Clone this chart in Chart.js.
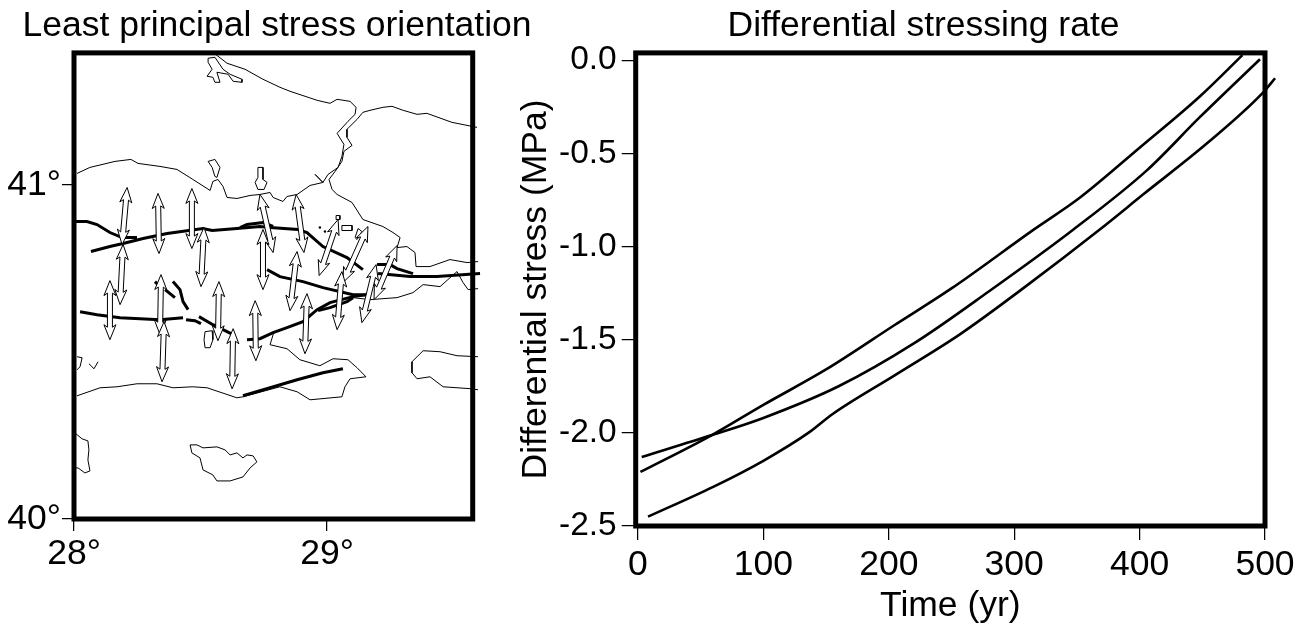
<!DOCTYPE html>
<html>
<head>
<meta charset="utf-8">
<title>Stress orientation and stressing rate</title>
<script src="https://cdn.jsdelivr.net/npm/chart.js@4"></script>
<style>
	html, body { margin: 0; background: #fff; overflow: hidden; width: 1305px; height: 625px; }
	canvas { position: absolute; top: 0; }
	#chart-map { left: 0; }
	#chart-rate { left: 485px; }
</style>
</head>
<body>
<canvas id="chart-map" width="554" height="625"></canvas>
<canvas id="chart-rate" width="877" height="625"></canvas>
<script>
// Map ticks
const lonTicks = [28, 29];
const latTicks = [40, 41];

// Coastlines, [lon, lat]
const coastEurope = [[28.549,41.398],[28.605,41.365],[28.676,41.347],[28.747,41.317],[28.814,41.293],[28.854,41.281],[28.961,41.254],[29.012,41.245],[29.040,41.257],[29.091,41.251],[29.115,41.233],[29.111,41.212],[29.083,41.191],[29.040,41.155],[29.067,41.122],[29.059,41.086],[29.044,41.053],[29.004,41.032],[28.984,41.008],[28.953,41.032],[28.984,41.008],[28.933,40.999],[28.882,40.972],[28.842,40.966],[28.826,40.951],[28.787,40.963],[28.775,40.978],[28.735,40.972],[28.696,40.969],[28.644,40.960],[28.605,40.963],[28.589,40.996],[28.569,41.017],[28.549,41.011],[28.538,40.984],[28.470,41.017],[28.407,41.047],[28.340,41.056],[28.253,41.065],[28.225,41.077],[28.162,41.071],[28.063,41.053],[28.012,41.035]];
const coastAsiaNorth = [[29.593,41.173],[29.494,41.188],[29.395,41.215],[29.356,41.212],[29.301,41.224],[29.257,41.236],[29.221,41.233],[29.170,41.224],[29.142,41.218],[29.119,41.197],[29.079,41.167],[29.079,41.143],[29.099,41.119],[29.067,41.101],[29.059,41.071],[29.032,41.041],[29.008,41.017],[29.020,40.987],[29.040,40.972],[29.099,40.948],[29.142,40.897],[29.221,40.876],[29.261,40.858],[29.289,40.843],[29.277,40.813],[29.316,40.816],[29.348,40.798],[29.352,40.756],[29.407,40.756],[29.486,40.777],[29.554,40.768],[29.597,40.771]];
const coastIzmitSouth = [[29.103,40.663],[29.170,40.657],[29.277,40.663],[29.340,40.678],[29.380,40.702],[29.447,40.696],[29.478,40.717],[29.514,40.741],[29.538,40.708],[29.558,40.687],[29.597,40.690]];
const coastSouth = [[28.012,40.369],[28.103,40.393],[28.170,40.396],[28.249,40.405],[28.328,40.405],[28.391,40.393],[28.470,40.396],[28.526,40.393],[28.644,40.363],[28.668,40.366],[28.814,40.396],[28.882,40.381],[28.933,40.357],[29.059,40.366],[29.071,40.396],[29.091,40.420],[29.154,40.426],[29.119,40.453],[29.083,40.477],[29.024,40.480],[28.972,40.459],[28.893,40.477],[28.842,40.510],[28.775,40.522],[28.787,40.552],[28.795,40.561]];
const lakeApolyont = [[29.597,40.486],[29.514,40.489],[29.447,40.501],[29.380,40.504],[29.336,40.471],[29.336,40.438],[29.356,40.420],[29.407,40.426],[29.459,40.396],[29.573,40.390],[29.597,40.387]];
const lakeTerkos = [[28.530,41.380],[28.557,41.383],[28.589,41.347],[28.617,41.332],[28.664,41.317],[28.664,41.308],[28.629,41.311],[28.609,41.332],[28.565,41.338],[28.577,41.308],[28.557,41.308],[28.549,41.323],[28.526,41.326],[28.546,41.347],[28.530,41.368],[28.530,41.380]];
const lakeKucuk = [[28.565,41.023],[28.577,41.053],[28.557,41.077],[28.530,41.071],[28.546,41.053],[28.557,41.026],[28.565,41.023]];
const lakeBuyuk = [[28.727,41.053],[28.747,41.053],[28.747,41.017],[28.763,41.008],[28.751,40.987],[28.727,40.987],[28.716,41.008],[28.727,41.023],[28.727,41.053]];
const islandKapi = [[28.518,40.561],[28.546,40.564],[28.549,40.537],[28.538,40.513],[28.518,40.513],[28.514,40.537],[28.518,40.561]];
const islandWest = [[28.012,40.486],[28.032,40.483],[28.024,40.456],[28.012,40.447]];
const islandSpeck = [[28.059,40.465],[28.079,40.450],[28.095,40.471]];
const landSouthWest = [[28.008,40.255],[28.032,40.240],[28.055,40.234],[28.059,40.207],[28.055,40.177],[28.063,40.144],[28.043,40.138],[28.016,40.153],[28.008,40.153]];
const islandMarmara = [[28.459,40.222],[28.486,40.222],[28.510,40.213],[28.565,40.216],[28.597,40.207],[28.617,40.192],[28.644,40.198],[28.668,40.183],[28.684,40.192],[28.708,40.189],[28.723,40.171],[28.696,40.153],[28.668,40.126],[28.617,40.114],[28.565,40.114],[28.549,40.132],[28.510,40.147],[28.498,40.183],[28.466,40.198],[28.459,40.222]];
const isletSquare = [[29.036,40.909],[29.051,40.909],[29.051,40.897],[29.036,40.897],[29.036,40.909]];
const isletFlat = [[29.059,40.879],[29.099,40.879],[29.099,40.864],[29.059,40.864],[29.059,40.879]];
const isletImrali = [[29.123,40.870],[29.138,40.861],[29.119,40.837],[29.111,40.843],[29.123,40.870]];
const isletDots = [[28.972,40.873],[28.992,40.861]];

// Faults, [lon, lat]
const faultGanos = [[28.000,40.891],[28.051,40.891],[28.091,40.882],[28.142,40.858],[28.190,40.843],[28.249,40.843]];
const faultNorth = [[28.067,40.801],[28.142,40.816],[28.194,40.825],[28.273,40.840],[28.368,40.855],[28.510,40.870],[28.546,40.864],[28.644,40.870],[28.735,40.876],[28.775,40.873],[28.885,40.867],[28.921,40.858],[28.984,40.816],[29.079,40.783],[29.142,40.747]];
const faultNorthSplay = [[28.656,40.873],[28.684,40.882],[28.747,40.888],[28.787,40.876]];
const faultIzmitWest = [[29.198,40.762],[29.249,40.762],[29.277,40.750],[29.340,40.735]];
const faultMiddle = [[28.763,40.747],[28.814,40.726],[28.905,40.711],[28.984,40.693],[29.103,40.672],[29.158,40.672]];
const faultIzmit = [[29.202,40.735],[29.328,40.726],[29.435,40.726],[29.605,40.735]];
const faultSouthA = [[28.024,40.621],[28.091,40.612],[28.182,40.603],[28.261,40.600],[28.340,40.597],[28.431,40.603]];
const faultSouthB = [[28.443,40.597],[28.478,40.594],[28.502,40.585]];
const faultSouthC = [[28.494,40.606],[28.549,40.582],[28.629,40.552]];
const faultSouthD = [[28.684,40.537],[28.735,40.540],[28.787,40.558],[28.842,40.573],[28.905,40.591],[28.961,40.627],[29.012,40.648],[29.103,40.666],[29.162,40.672]];
const faultSouthLens = [[28.965,40.624],[29.012,40.633],[29.079,40.651],[29.103,40.663]];
const faultKapidag = [[28.668,40.369],[28.775,40.393],[28.882,40.417],[28.984,40.438],[29.063,40.450]];
const faultShortA = [[28.320,40.711],[28.340,40.696]];
const faultShortB = [[28.360,40.687],[28.399,40.663]];
const faultShortC = [[28.391,40.711],[28.419,40.687],[28.431,40.651],[28.451,40.627]];

// Least principal stress arrows, tip to tip
const arrowLonA = [28.210,28.194,28.332,28.466,28.514,28.735,28.747,28.878,29.044,29.162,29.277,29.194,29.059,28.921,28.882,28.716,28.629,28.573,28.142,28.344,28.356];
const arrowLatA = [40.993,40.822,40.975,40.990,40.873,40.972,40.867,40.972,40.897,40.876,40.819,40.762,40.741,40.675,40.801,40.654,40.570,40.711,40.714,40.732,40.591];
const arrowLonB = [28.190,28.182,28.336,28.466,28.502,28.787,28.747,28.909,28.969,29.063,29.186,29.138,29.040,28.913,28.854,28.719,28.625,28.569,28.142,28.340,28.348];
const arrowLatB = [40.822,40.642,40.795,40.810,40.696,40.798,40.687,40.798,40.729,40.708,40.657,40.588,40.567,40.495,40.624,40.474,40.390,40.534,40.537,40.552,40.411];

// Differential stressing rate
const rateXTicks = [0, 100, 200, 300, 400, 500];
const rateYTicks = [-2.5, -2.0, -1.5, -1.0, -0.5, 0.0];
const timeA = [2, 59, 100, 150, 205, 250, 315, 352, 400, 448, 482];
const stressA = [-2.21, -2.012, -1.85, -1.66, -1.42, -1.225, -0.912, -0.74, -0.47, -0.195, 0.027];
const timeB = [3, 59, 100, 160, 220, 280, 347, 406, 448, 496];
const stressB = [-2.13, -2.012, -1.92, -1.75, -1.52, -1.24, -0.91, -0.59, -0.306, 0.005];
const timeC = [8, 60, 100, 137, 155, 205, 257, 310, 368, 403, 454, 498, 508];
const stressC = [-2.45, -2.29, -2.15, -1.995, -1.9, -1.69, -1.47, -1.21, -0.91, -0.72, -0.445, -0.177, -0.097];

const FONT_FAMILY = '"Liberation Sans", Arial, sans-serif';
const FONT_SIZE = 35.5;

Chart.defaults.font.family = FONT_FAMILY;
Chart.defaults.color = "#000";

// Thick box round the plot
const framePlugin = {
	id: "frame",
	afterDatasetsDraw(chart) {
		const { ctx, chartArea: a } = chart;
		ctx.save();
		ctx.strokeStyle = "#000";
		ctx.lineWidth = 5;
		ctx.strokeRect(a.left, a.top, a.right - a.left, a.bottom - a.top);
		ctx.restore();
	},
};

// Hollow double-headed arrows, placed through the map scales
const arrowPlugin = {
	id: "arrows",
	afterDatasetsDraw(chart) {
		const { ctx, scales } = chart;
		const HEAD = 15, BARB = 6, NECK = 12.5, SHAFT = 2.5;
		ctx.save();
		ctx.fillStyle = "#fff";
		ctx.strokeStyle = "#000";
		ctx.lineWidth = 1;
		arrowLonA.forEach((lon, i) => {
			const x1 = scales.x.getPixelForValue(lon);
			const y1 = scales.y.getPixelForValue(arrowLatA[i]);
			const x2 = scales.x.getPixelForValue(arrowLonB[i]);
			const y2 = scales.y.getPixelForValue(arrowLatB[i]);
			const len = Math.hypot(x2 - x1, y2 - y1);
			const ux = (x2 - x1) / len, uy = (y2 - y1) / len;
			const at = (along, side) => [x1 + ux * along - uy * side, y1 + uy * along + ux * side];
			const outline = [
				at(0, 0), at(HEAD, BARB), at(NECK, SHAFT), at(len - NECK, SHAFT), at(len - HEAD, BARB),
				at(len, 0), at(len - HEAD, -BARB), at(len - NECK, -SHAFT), at(NECK, -SHAFT), at(HEAD, -BARB),
			];
			ctx.beginPath();
			outline.forEach(([px, py], k) => (k ? ctx.lineTo(px, py) : ctx.moveTo(px, py)));
			ctx.closePath();
			ctx.fill();
			ctx.stroke();
		});
		ctx.restore();
	},
};

const pathSet = (points, width) => ({
	data: points.map(([x, y]) => ({ x, y })),
	showLine: true,
	borderColor: "#000",
	borderWidth: width,
	pointRadius: 0,
	tension: 0,
	clip: false,
});

const seriesSet = (times, values) => ({
	...pathSet(times.map((t, i) => [t, values[i]]), 2.6),
	cubicInterpolationMode: "monotone",
});

const axis = (position, min, max, ticks, format, size, tickLength, padding) => ({
	type: "linear",
	position,
	min,
	max,
	afterBuildTicks: (scale) => {
		scale.ticks = ticks.map((value) => ({ value }));
	},
	afterFit: (scale) => {
		if (position === "left") scale.width = size;
		else scale.height = size;
	},
	border: { display: false },
	grid: { drawOnChartArea: false, tickLength, color: "#000", lineWidth: 1.25 },
	ticks: {
		callback: format,
		autoSkip: false,
		maxRotation: 0,
		padding,
		color: "#000",
		font: { size: FONT_SIZE },
	},
});

// Empty axis that keeps the free space right of the box, so the title stays centred on the canvas
const spacerAxis = (size) => ({
	type: "linear",
	position: "right",
	afterFit: (scale) => {
		scale.width = size;
	},
	border: { display: false },
	grid: { display: false },
	ticks: { display: false },
});

const titleOf = (text) => ({
	display: true,
	text,
	color: "#000",
	font: { size: FONT_SIZE, weight: "normal" },
	padding: { top: 5, bottom: 5.3 },
});

const axisTitle = (text, padding) => ({
	display: true,
	text,
	color: "#000",
	font: { size: FONT_SIZE },
	padding,
});

const degree = (v) => `${v}°`;

// Left panel
new Chart(document.getElementById("chart-map"), {
	type: "scatter",
	data: {
		datasets: [
			...[coastEurope, coastAsiaNorth, coastIzmitSouth, coastSouth, lakeApolyont, lakeTerkos, lakeKucuk, lakeBuyuk, islandKapi, islandWest, islandSpeck, landSouthWest, islandMarmara, isletSquare, isletFlat, isletImrali].map((p) => pathSet(p, 1)),
			{ ...pathSet(isletDots, 1), showLine: false, pointRadius: 1.2, pointBackgroundColor: "#000", pointBorderWidth: 0 },
			...[faultGanos, faultNorth, faultNorthSplay, faultIzmitWest, faultMiddle, faultIzmit, faultSouthA, faultSouthB, faultSouthC, faultSouthD, faultSouthLens, faultKapidag, faultShortA, faultShortB, faultShortC].map((p) => pathSet(p, 3)),
		],
	},
	options: {
		responsive: false,
		animation: false,
		layout: { padding: 0 },
		plugins: { legend: { display: false }, tooltip: { enabled: false }, title: titleOf("Least principal stress orientation") },
		scales: {
			x: axis("bottom", 28, 29.576, lonTicks, degree, 106, 12, 2),
			y: axis("left", 40, 41.396, latTicks, degree, 74, 12, 1),
			spacer: spacerAxis(81.3),
		},
	},
	plugins: [framePlugin, arrowPlugin],
});

// Right panel
const rateX = axis("bottom", -1.8, 500, rateXTicks, (v) => String(v), 99, 14, 4);
rateX.title = axisTitle("Time (yr)", { top: 0, bottom: -3 });
const rateY = axis("left", -2.5, 0.039, rateYTicks, (v) => v.toFixed(1), 150.7, 14, 5);
rateY.ticks.font = { size: 33.5 };
rateY.title = axisTitle("Differential stress (MPa)", { top: 30, bottom: 0 });

new Chart(document.getElementById("chart-rate"), {
	type: "scatter",
	data: {
		datasets: [seriesSet(timeA, stressA), seriesSet(timeB, stressB), seriesSet(timeC, stressC)],
	},
	options: {
		responsive: false,
		animation: false,
		layout: { padding: 0 },
		plugins: { legend: { display: false }, tooltip: { enabled: false }, title: titleOf("Differential stressing rate") },
		scales: { x: rateX, y: rateY, spacer: spacerAxis(97) },
	},
	plugins: [framePlugin],
});
</script>
</body>
</html>
